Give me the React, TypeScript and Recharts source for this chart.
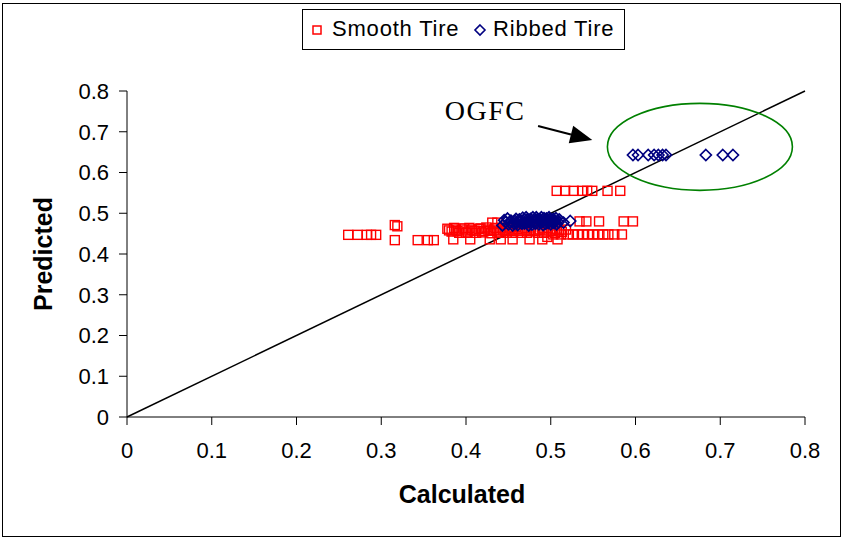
import { ScatterChart, Scatter, XAxis, YAxis, ReferenceLine, ReferenceDot } from "recharts";

// Smooth tire: [calculated, predicted]
const smoothTire: [number, number][] = [
  [0.261, 0.447], [0.272, 0.447], [0.283, 0.447], [0.288, 0.447], [0.294, 0.447],
  [0.316, 0.471], [0.319, 0.468], [0.316, 0.434],
  [0.343, 0.434], [0.355, 0.434], [0.362, 0.434], [0.385, 0.436], [0.405, 0.436],
  [0.428, 0.436], [0.441, 0.436], [0.455, 0.436], [0.475, 0.436], [0.49, 0.436], [0.508, 0.436],
  [0.378, 0.462], [0.383, 0.455], [0.388, 0.46], [0.392, 0.452], [0.398, 0.463], [0.402, 0.455],
  [0.407, 0.46], [0.412, 0.452], [0.417, 0.463], [0.421, 0.456], [0.426, 0.46], [0.43, 0.451],
  [0.435, 0.464], [0.44, 0.455], [0.444, 0.46], [0.448, 0.452], [0.452, 0.465], [0.456, 0.456],
  [0.461, 0.461], [0.466, 0.452], [0.47, 0.464], [0.475, 0.456], [0.48, 0.46], [0.485, 0.452],
  [0.49, 0.463], [0.495, 0.455], [0.5, 0.46], [0.505, 0.452], [0.51, 0.458],
  [0.38, 0.458], [0.386, 0.464], [0.39, 0.456], [0.395, 0.46], [0.4, 0.452], [0.404, 0.464],
  [0.41, 0.457], [0.415, 0.461], [0.419, 0.453], [0.424, 0.465], [0.428, 0.457], [0.433, 0.46],
  [0.437, 0.452], [0.442, 0.464], [0.446, 0.457], [0.45, 0.46], [0.454, 0.452], [0.459, 0.466],
  [0.463, 0.457], [0.468, 0.46], [0.472, 0.452], [0.477, 0.465], [0.482, 0.456], [0.487, 0.46],
  [0.492, 0.452], [0.497, 0.464], [0.502, 0.456], [0.507, 0.462], [0.513, 0.454], [0.518, 0.46],
  [0.431, 0.477], [0.437, 0.477],
  [0.534, 0.48], [0.542, 0.48], [0.557, 0.48], [0.586, 0.48], [0.597, 0.48],
  [0.496, 0.442], [0.503, 0.448], [0.512, 0.448], [0.52, 0.448], [0.526, 0.448], [0.532, 0.448],
  [0.538, 0.448], [0.544, 0.448], [0.55, 0.448], [0.556, 0.448], [0.562, 0.448], [0.568, 0.448],
  [0.575, 0.448], [0.584, 0.448],
  [0.507, 0.555], [0.517, 0.555], [0.527, 0.555], [0.537, 0.555], [0.543, 0.555], [0.549, 0.555],
  [0.567, 0.555], [0.582, 0.555],
];

// Ribbed tire: [calculated, predicted]
const ribbedTire: [number, number][] = [
  [0.443, 0.47], [0.447, 0.478], [0.45, 0.473], [0.453, 0.482], [0.456, 0.476], [0.459, 0.486],
  [0.461, 0.471], [0.464, 0.48], [0.467, 0.489], [0.469, 0.475], [0.472, 0.484], [0.474, 0.47],
  [0.477, 0.479], [0.479, 0.49], [0.482, 0.474], [0.484, 0.485], [0.487, 0.478], [0.489, 0.49],
  [0.491, 0.471], [0.493, 0.482], [0.495, 0.487], [0.497, 0.476], [0.499, 0.484], [0.501, 0.479],
  [0.503, 0.486], [0.505, 0.481], [0.509, 0.478], [0.51, 0.485], [0.515, 0.477], [0.523, 0.481],
  [0.445, 0.483], [0.449, 0.487], [0.452, 0.477], [0.455, 0.47], [0.458, 0.481], [0.46, 0.476],
  [0.463, 0.485], [0.466, 0.474], [0.468, 0.481], [0.471, 0.49], [0.473, 0.478], [0.476, 0.486],
  [0.478, 0.472], [0.481, 0.481], [0.483, 0.49], [0.486, 0.473], [0.488, 0.484], [0.49, 0.479],
  [0.492, 0.488], [0.494, 0.474], [0.496, 0.481], [0.498, 0.49], [0.5, 0.473], [0.502, 0.483],
  [0.504, 0.476], [0.506, 0.488], [0.507, 0.473],
  [0.597, 0.643], [0.603, 0.643], [0.615, 0.643], [0.622, 0.643], [0.627, 0.643], [0.632, 0.643],
  [0.636, 0.643], [0.683, 0.643], [0.703, 0.643], [0.715, 0.643],
];

const axisTicks = [0, 0.1, 0.2, 0.3, 0.4, 0.5, 0.6, 0.7, 0.8];

// 1:1 line and the OGFC callout
const diagonal = [{ x: 0, y: 0 }, { x: 0.8, y: 0.8 }];
const ogfcText = { x: 0.4225, y: 0.73 };
const ogfcArrow = [{ x: 0.485, y: 0.714 }, { x: 0.549, y: 0.68 }];
const ogfcRing = { x: 0.676, y: 0.663 };

const smoothData = smoothTire.map(([x, y]) => ({ x, y }));
const ribbedData = ribbedTire.map(([x, y]) => ({ x, y }));

const Square = (p: any) => (
  <rect x={p.cx - 4.5} y={p.cy - 4.5} width={9} height={9} fill="none" stroke="#FF0000" strokeWidth={1.4} />
);

const Diamond = (p: any) => (
  <path
    d={`M${p.cx},${p.cy - 5.5}L${p.cx + 5.5},${p.cy}L${p.cx},${p.cy + 5.5}L${p.cx - 5.5},${p.cy}Z`}
    fill="none"
    stroke="#000080"
    strokeWidth={1.7}
  />
);

const Arrow = (p: any) => {
  const { x1, y1, x2, y2 } = p;
  const a = Math.atan2(y2 - y1, x2 - x1);
  const len = 22;
  const half = 9;
  const bx = x2 - len * Math.cos(a);
  const by = y2 - len * Math.sin(a);
  const nx = -Math.sin(a) * half;
  const ny = Math.cos(a) * half;
  return (
    <g>
      <line x1={x1} y1={y1} x2={bx} y2={by} stroke="#000" strokeWidth={2} />
      <polygon points={`${x2},${y2} ${bx + nx},${by + ny} ${bx - nx},${by - ny}`} fill="#000" />
    </g>
  );
};

const Ring = (p: any) => (
  <ellipse cx={p.cx} cy={p.cy} rx={92.5} ry={43.5} fill="none" stroke="#008000" strokeWidth={1.6} />
);

const OgfcLabel = (p: any) => (
  <text
    x={p.cx}
    y={p.cy}
    textAnchor="middle"
    fontFamily="Liberation Serif"
    fontSize={28}
    letterSpacing={1.5}
    fill="#000"
  >
    OGFC
  </text>
);

const yTitle = ({ viewBox }: any) => {
  const cx = viewBox.x + 43;
  const cy = viewBox.y + viewBox.height / 2;
  return (
    <text
      x={cx}
      y={cy}
      transform={`rotate(-90, ${cx}, ${cy})`}
      textAnchor="middle"
      dominantBaseline="central"
      fontSize={25}
      fontWeight="bold"
      fill="#000"
    >
      Predicted
    </text>
  );
};

const xTitle = ({ viewBox }: any) => (
  <text
    x={viewBox.x + viewBox.width / 2 - 4}
    y={503}
    textAnchor="middle"
    fontSize={25}
    fontWeight="bold"
    fill="#000"
  >
    Calculated
  </text>
);

const tickStyle = { fontSize: 22, fill: "#000", fontFamily: "Liberation Sans" };

export default function App() {
  return (
    <div
      style={{
        position: "absolute",
        left: 0,
        top: 0,
        width: 842,
        height: 538,
        background: "#fff",
        fontFamily: "'Liberation Sans', Arial, sans-serif",
      }}
    >
      <div
        style={{
          position: "absolute",
          left: 2,
          top: 3,
          width: 839,
          height: 534,
          border: "1px solid #000",
          boxSizing: "border-box",
        }}
      />
      <ScatterChart width={842} height={538} margin={{ top: 91, right: 37, bottom: 0, left: 0 }}>
        <XAxis
          type="number"
          dataKey="x"
          domain={[0, 0.8]}
          ticks={axisTicks}
          interval={0}
          height={121}
          tickSize={8}
          tickMargin={17}
          tick={tickStyle}
          tickFormatter={(v) => String(v)}
          stroke="#000"
          label={{ content: xTitle }}
        />
        <YAxis
          type="number"
          dataKey="y"
          domain={[0, 0.8]}
          ticks={axisTicks}
          interval={0}
          width={127}
          tickSize={8}
          tickMargin={10}
          tick={tickStyle}
          tickFormatter={(v) => String(v)}
          stroke="#000"
          label={{ content: yTitle }}
        />
        <ReferenceLine segment={diagonal} stroke="#000" strokeWidth={1.5} />
        <Scatter name="Smooth Tire" data={smoothData} shape={Square} isAnimationActive={false} />
        <Scatter name="Ribbed Tire" data={ribbedData} shape={Diamond} isAnimationActive={false} />
        <ReferenceDot x={ogfcRing.x} y={ogfcRing.y} shape={Ring} />
        <ReferenceLine segment={ogfcArrow} shape={Arrow} />
        <ReferenceDot x={ogfcText.x} y={ogfcText.y} shape={OgfcLabel} />
      </ScatterChart>
      {/* legend box */}
      <div
        style={{
          position: "absolute",
          left: 302,
          top: 9,
          width: 323,
          height: 41,
          border: "1px solid #000",
          boxSizing: "border-box",
          fontSize: 22,
          color: "#000",
        }}
      >
        <svg style={{ position: "absolute", left: 8, top: 14 }} width={12} height={12}>
          <rect x={2} y={2} width={8} height={8} fill="none" stroke="#FF0000" strokeWidth={1.5} />
        </svg>
        <span style={{ position: "absolute", left: 29, top: 0, lineHeight: "38px", letterSpacing: 0.8 }}>
          Smooth Tire
        </span>
        <svg style={{ position: "absolute", left: 170, top: 13, overflow: "visible" }} width={14} height={14}>
          <path d="M7,2L12,7L7,12L2,7Z" fill="none" stroke="#000080" strokeWidth={1.6} />
        </svg>
        <span style={{ position: "absolute", left: 190, top: 0, lineHeight: "38px", letterSpacing: 0.8 }}>
          Ribbed Tire
        </span>
      </div>
    </div>
  );
}
